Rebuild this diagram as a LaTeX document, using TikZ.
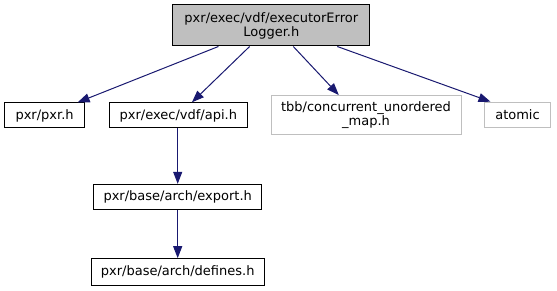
\documentclass[tikz,border=0pt]{standalone}
\usepackage{fontspec}
\setmainfont{DejaVu Sans}
\usetikzlibrary{arrows.meta}
\definecolor{edgec}{HTML}{191970}
\definecolor{grayfill}{HTML}{BFBFBF}
\begin{document}
\begin{tikzpicture}[x=1pt,y=-1pt,
  box/.style={draw=black,line width=1pt,inner sep=0pt,align=center,font=\fontsize{13}{14}\selectfont},
  extbox/.style={box,draw=grayfill},
  dep/.style={draw=edgec,line width=1pt,-{Triangle[length=12pt,width=9pt]},shorten >=0.3pt}]
\useasboundingbox (0,0) rectangle (557,291);
\node[box,fill=grayfill,minimum width=197pt,minimum height=41pt] (top) at (271.3,25.5) {pxr/exec/vdf/executorError\\Logger.h};
\node[box,minimum width=80.5pt,minimum height=25pt] (pxr) at (44.6,115.5) {pxr/pxr.h};
\node[box,minimum width=138pt,minimum height=25pt] (api) at (178.3,115.5) {pxr/exec/vdf/api.h};
\node[extbox,minimum width=190pt,minimum height=38.5pt] (tbb) at (366,115) {tbb/concurrent\_unordered\\\_map.h};
\node[extbox,minimum width=66.4pt,minimum height=25.4pt] (atomic) at (517.5,115) {atomic};
\node[box,minimum width=168.4pt,minimum height=25.3pt] (export) at (177.7,197.3) {pxr/base/arch/export.h};
\node[box,minimum width=173.3pt,minimum height=26pt] (defines) at (177.7,272) {pxr/base/arch/defines.h};
\draw[dep] (top) -- (pxr);
\draw[dep] (top) -- (api);
\draw[dep] ([xshift=22pt]top.south) -- ([xshift=-27pt]tbb.north);
\draw[dep] ([xshift=66pt]top.south) -- ([xshift=7pt]atomic.north west);
\draw[dep] (api.south -| export.north) -- (export.north);
\draw[dep] (export) -- (defines);
\end{tikzpicture}
\end{document}
